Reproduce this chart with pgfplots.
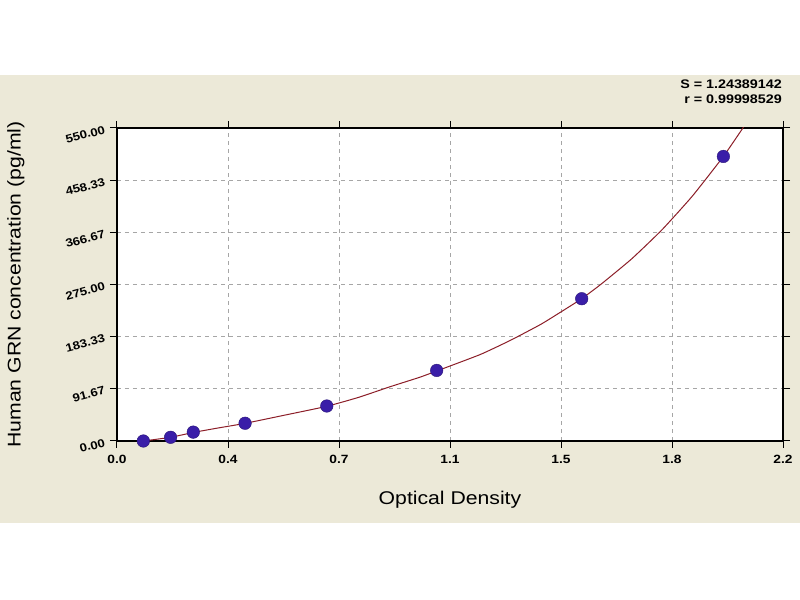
\documentclass[border=0pt]{standalone}
\usepackage{fontspec}
\setmainfont{Liberation Sans}
\newfontfamily\widefont{Liberation Sans}[FakeStretch=1.15]
\usepackage{pgfplots}
\pgfplotsset{compat=1.18}
\definecolor{panel}{RGB}{236,233,216}
\definecolor{markfill}{RGB}{58,30,168}
\definecolor{fitline}{RGB}{140,30,40}

\begin{document}
\begin{tikzpicture}[x=1bp,y=1bp]
  \useasboundingbox (-117,-159) rectangle (683,441);
  \fill[white] (-117,-159) rectangle (683,441);
  \fill[panel] (-117,-82) rectangle (683,366);

  \begin{axis}[
    at={(0,0)}, anchor=south west,
    scale only axis,
    width=666bp, height=313bp,
    xmin=0, xmax=2.2, ymin=0, ymax=550,
    axis background/.style={fill=white},
    axis line style={line width=1.5bp},
    xtick={0,0.36667,0.73333,1.1,1.46667,1.83333,2.2},
    xticklabels={0.0,0.4,0.7,1.1,1.5,1.8,2.2},
    ytick={0,91.667,183.333,275,366.667,458.333,550},
    yticklabels={0.00,91.67,183.33,275.00,366.67,458.33,550.00},
    minor x tick num=2,
    minor y tick num=4,
    tick align=outside,
    major tick length=7bp,
    minor tick length=4bp,
    tick style={black, line width=1bp},
    xticklabel style={font=\widefont\fontsize{12}{14}\selectfont\bfseries, yshift=-4bp},
    yticklabel style={font=\widefont\fontsize{11.5}{13}\selectfont\bfseries, rotate=15, anchor=east, xshift=-2bp},
    /pgf/number format/assume math mode=true,
    grid=major,
    major grid style={gray!70, dash pattern=on 4bp off 4bp, line width=0.8bp},
    xlabel={Optical Density},
    ylabel={Human GRN concentration (pg/ml)},
    xlabel style={font=\widefont\fontsize{18.5}{22}\selectfont, at={(axis description cs:0.5,-0.1885)}, anchor=center},
    ylabel style={font=\widefont\fontsize{18.5}{22}\selectfont, at={(axis description cs:-0.152,0.5)}, anchor=center},
  ]
    % fitted standard curve
    \addplot[fitline, line width=1bp, smooth, tension=0.3] coordinates {
      (0.055,-2) (0.087,0) (0.177,6.5) (0.252,15) (0.33,22.5) (0.423,31)
      (0.55,45) (0.693,61) (0.8,77) (0.9,95) (1.0,112) (1.056,123)
      (1.2,152) (1.3,177) (1.4,205) (1.467,227) (1.535,250) (1.6,276)
      (1.7,320) (1.8,371) (1.9,430) (2.003,500) (2.07,552)
    };
    % standards
    \addplot[only marks, mark=*, mark size=6.3bp,
      mark options={fill=markfill, draw=markfill!70!black}] coordinates {
      (0.087,0) (0.177,6.5) (0.252,15.6) (0.423,31.2) (0.693,61.5)
      (1.056,124) (1.535,250) (2.003,500)
    };
  \end{axis}

  \node[anchor=east, font=\widefont\fontsize{12.5}{15}\selectfont\bfseries, inner sep=0] at (665,357) {S = 1.24389142};
  \node[anchor=east, font=\widefont\fontsize{12.5}{15}\selectfont\bfseries, inner sep=0] at (665,342) {r = 0.99998529};
\end{tikzpicture}
\end{document}
